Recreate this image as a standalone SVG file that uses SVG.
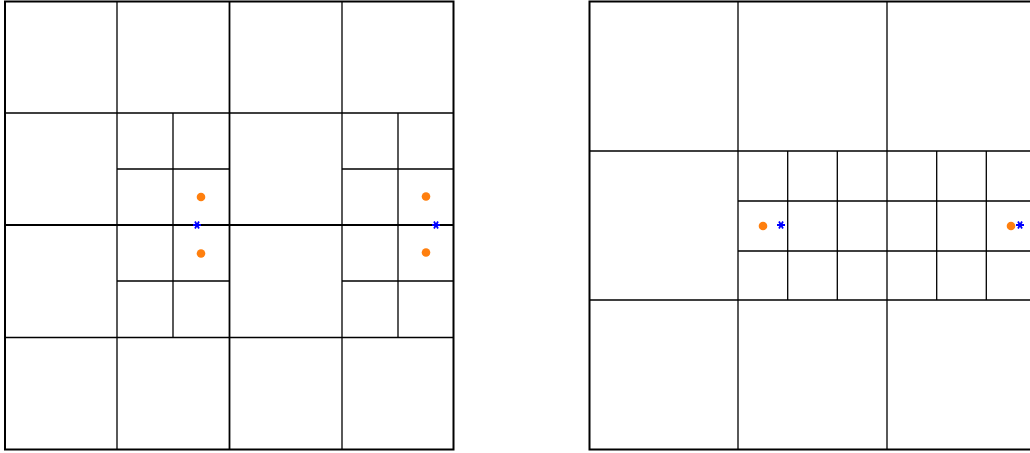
<svg xmlns="http://www.w3.org/2000/svg" width="1030" height="453" viewBox="0 0 1030 453">
<style>
.outer{fill:none;stroke:#000;stroke-width:2}
.l{stroke:#000;stroke-width:1.3;fill:none}
.m{stroke:#000;stroke-width:1.8;fill:none}
.dot{fill:#ff7f0e}
.star{stroke:#0000ff;stroke-width:1.8;fill:none}
</style>
<defs>
<g id="ast"><path class="star" d="M-4,0H4M-2,-3.46L2,3.46M-2,3.46L2,-3.46"/></g>
</defs>
<rect x="0" y="0" width="1030" height="453" fill="#fff"/>
<g id="left-panel">
<rect class="outer" x="5" y="1.5" width="448.5" height="448"/>
<path class="l" d="M117,1.5V449.5M342,1.5V449.5M5,113H453.5M5,337.5H453.5"/>
<path class="m" d="M229.5,1.5V449.5M5,225H453.5"/>
<path class="l" d="M173,113V337.5M117,169H229.5M117,281H229.5"/>
<path class="l" d="M398,113V337.5M342,169H453.5M342,281H453.5"/>
<circle class="dot" cx="201" cy="197" r="4.3"/>
<circle class="dot" cx="201" cy="253.5" r="4.3"/>
<circle class="dot" cx="426" cy="196.5" r="4.3"/>
<circle class="dot" cx="426" cy="252.5" r="4.3"/>
<use href="#ast" x="197" y="225"/>
<use href="#ast" x="436" y="225"/>
</g>
<g id="right-panel">
<path class="outer" d="M1040,1.5H589.5V449.5H1040"/>
<path class="l" d="M738,1.5V449.5M887,1.5V449.5M589.5,151H1040M589.5,300H1040"/>
<path class="l" d="M787.7,151V300M837.3,151V300M936.7,151V300M986.3,151V300M738,201H1040M738,251H1040"/>
<circle class="dot" cx="763" cy="226" r="4.3"/>
<circle class="dot" cx="1011" cy="226" r="4.3"/>
<use href="#ast" x="781" y="225"/>
<use href="#ast" x="1020" y="225"/>
</g>
</svg>
